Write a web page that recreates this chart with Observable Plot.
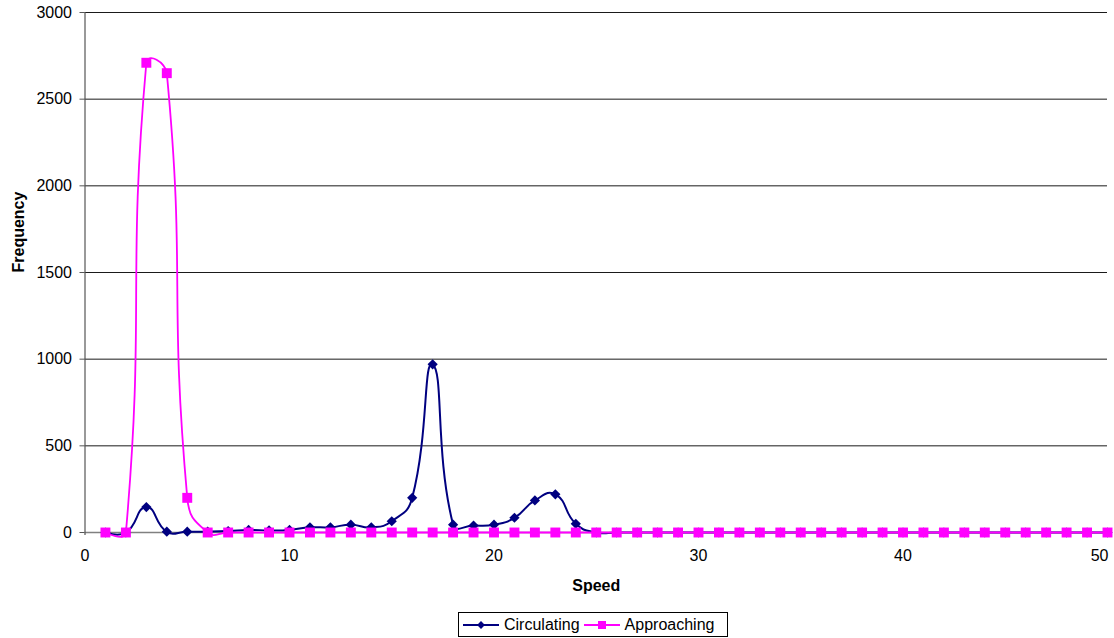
<!DOCTYPE html>
<html>
<head>
<meta charset="utf-8">
<script src="https://cdn.jsdelivr.net/npm/d3@7"></script>
<script src="https://cdn.jsdelivr.net/npm/@observablehq/plot@0.6"></script>
<style>
  html, body { margin: 0; padding: 0; background: #fff; }
  body { width: 1114px; height: 638px; position: relative; overflow: hidden; font-family: "Liberation Sans", Arial, sans-serif; }
  #legend { position: absolute; left: 458px; top: 612px; width: 268px; height: 23px; border: 1px solid #000; display: flex; align-items: center; font-size: 16px; color: #000; box-sizing: content-box; }
  #legend .item { display: flex; align-items: center; margin-left: 4px; }
  #legend .item span { margin-left: 5px; }
</style>
</head>
<body>
<div id="chart"></div>
<div id="legend"></div>
<script>
const speeds = [1,2,3,4,5,6,7,8,9,10,11,12,13,14,15,16,17,18,19,20,21,22,23,24,25,26,27,28,29,30,31,32,33,34,35,36,37,38,39,40,41,42,43,44,45,46,47,48,49,50];
const circulating = [0,0,147,5,5,5,8,15,12,15,30,30,45,30,65,200,970,45,40,45,85,185,220,50,0,0,0,0,0,0,0,0,0,0,0,0,0,0,0,0,0,0,0,0,0,0,0,0,0,0];
const approaching = [0,0,2710,2650,200,0,0,0,0,0,0,0,0,0,0,0,0,0,0,0,0,0,0,0,0,0,0,0,0,0,0,0,0,0,0,0,0,0,0,0,0,0,0,0,0,0,0,0,0,0];
const seriesNames = ["Circulating", "Approaching"];
const seriesColors = ["#000080", "#FF00FF"];
const xTicks = [0,10,20,30,40,50];
const yTicks = [0,500,1000,1500,2000,2500,3000];

const circ = speeds.map((s, i) => ({speed: s, freq: circulating[i]}));
const appr = speeds.map((s, i) => ({speed: s, freq: approaching[i]}));

// Excel-style smoothed line: Bezier control points scaled by relative chord lengths
function smoothCurve(context) {
  let pts;
  return {
    areaStart() {}, areaEnd() {},
    lineStart() { pts = []; },
    point(x, y) { pts.push([+x, +y]); },
    lineEnd() {
      const n = pts.length;
      if (!n) return;
      context.moveTo(pts[0][0], pts[0][1]);
      if (n === 2) { context.lineTo(pts[1][0], pts[1][1]); return; }
      const t = 0.5, cin = [], cout = [];
      for (let i = 0; i < n; i++) {
        if (i === 0 || i === n - 1) { cin[i] = pts[i]; cout[i] = pts[i]; continue; }
        const p0 = pts[i - 1], p1 = pts[i], p2 = pts[i + 1];
        const d01 = Math.hypot(p1[0] - p0[0], p1[1] - p0[1]);
        const d12 = Math.hypot(p2[0] - p1[0], p2[1] - p1[1]);
        const s = (d01 + d12) || 1;
        const fa = t * d01 / s, fb = t * d12 / s;
        const dx = p2[0] - p0[0], dy = p2[1] - p0[1];
        cin[i] = [p1[0] - fa * dx, p1[1] - fa * dy];
        cout[i] = [p1[0] + fb * dx, p1[1] + fb * dy];
      }
      for (let i = 0; i < n - 1; i++) {
        context.bezierCurveTo(cout[i][0], cout[i][1], cin[i + 1][0], cin[i + 1][1], pts[i + 1][0], pts[i + 1][1]);
      }
    }
  };
}

const plot = Plot.plot({
  width: 1114,
  height: 605,
  marginLeft: 84.5,
  marginRight: 7,
  marginTop: 12,
  marginBottom: 73,
  style: {fontFamily: "'Liberation Sans', Arial, sans-serif", fontSize: "16px", color: "#000", background: "#fff"},
  x: {domain: [0, 50], ticks: xTicks, label: null},
  y: {domain: [0, 3000], ticks: yTicks, label: null},
  marks: [
    Plot.ruleY(yTicks.filter(d => d > 0), {stroke: "#1a1a1a", strokeWidth: 1}),
    Plot.ruleY([0], {stroke: "#808080", strokeWidth: 1.5}),
    Plot.ruleX([0], {y1: -18, y2: 3000, stroke: "#555", strokeWidth: 1.2}),
    Plot.axisY({ticks: yTicks, tickSize: 5, tickPadding: 8, fontSize: 16, label: null, stroke: "#555", tickFormat: d3.format("d")}),
    Plot.axisX({ticks: xTicks.slice(0, -1), tickSize: 0, tickPadding: 17, fontSize: 16, label: null, tickFormat: d3.format("d")}),
    Plot.axisX({ticks: xTicks.slice(-1), tickSize: 0, tickPadding: 17, fontSize: 16, label: null, tickFormat: d3.format("d"), textAnchor: "end", dx: 1}),
    Plot.line(circ, {x: "speed", y: "freq", stroke: seriesColors[0], strokeWidth: 2, curve: smoothCurve}),
    Plot.dot(circ, {x: "speed", y: "freq", symbol: "diamond2", r: 4.6, fill: seriesColors[0], stroke: "none"}),
    Plot.line(appr, {x: "speed", y: "freq", stroke: seriesColors[1], strokeWidth: 1.8, curve: smoothCurve}),
    Plot.dot(appr, {x: "speed", y: "freq", symbol: "square", r: 5.6, fill: seriesColors[1], stroke: "none"}),
    Plot.text(["Speed"], {x: 25, frameAnchor: "bottom", dy: 58, fontWeight: "bold", fontSize: 16}),
    Plot.text(["Frequency"], {frameAnchor: "left", dx: -66, rotate: -90, fontWeight: "bold", fontSize: 16})
  ]
});
document.getElementById("chart").appendChild(plot);

// legend
const legend = d3.select("#legend");
const symbols = [d3.symbolDiamond2, d3.symbolSquare];
const sizes = [Math.PI * 4.2 * 4.2, Math.PI * 5.4 * 5.4];
seriesNames.forEach((name, i) => {
  const item = legend.append("div").attr("class", "item");
  const svg = item.append("svg").attr("width", 36).attr("height", 14);
  svg.append("line").attr("x1", 0).attr("x2", 36).attr("y1", 7).attr("y2", 7)
    .attr("stroke", seriesColors[i]).attr("stroke-width", 2);
  svg.append("path").attr("d", d3.symbol(symbols[i], sizes[i] * 0.7)())
    .attr("transform", "translate(18,7)").attr("fill", seriesColors[i]);
  item.append("span").text(name);
});
</script>
</body>
</html>
